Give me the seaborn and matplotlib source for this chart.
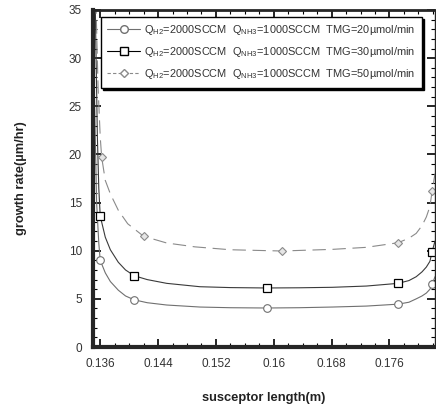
import matplotlib
matplotlib.use("Agg")
import matplotlib.pyplot as plt
from matplotlib.lines import Line2D
from matplotlib.ticker import MultipleLocator
import seaborn as sns

sns.set_style("ticks")
plt.rcParams["font.family"] = ["Liberation Sans", "DejaVu Sans"]
plt.rcParams["mathtext.fontset"] = "custom"
plt.rcParams["mathtext.rm"] = "Liberation Sans"

# ---------------- data ----------------
# curve samples
x_20 = [0.1352, 0.1355, 0.1358, 0.136, 0.1367, 0.1374, 0.1385, 0.1395, 0.1407, 0.1425,
        0.1452, 0.1498, 0.154, 0.159, 0.1635, 0.1681, 0.1728, 0.1772, 0.1787, 0.1797,
        0.1805, 0.1811, 0.1816, 0.1819, 0.1823]
y_20 = [26.0, 15.0, 10.8, 9.0, 7.7, 6.8, 5.9, 5.3, 4.9, 4.6,
        4.36, 4.15, 4.08, 4.05, 4.08, 4.15, 4.25, 4.45, 4.65, 5.0,
        5.3, 5.6, 6.0, 6.5, 7.3]

x_30 = [0.1353, 0.1356, 0.1358, 0.136, 0.1367, 0.1374, 0.1385, 0.1395, 0.1407, 0.1425,
        0.1452, 0.1498, 0.154, 0.159, 0.1635, 0.1681, 0.1728, 0.1772, 0.1787, 0.1797,
        0.1805, 0.1811, 0.1816, 0.1819, 0.1823]
y_30 = [36.0, 22.0, 16.5, 13.6, 11.4, 10.1, 8.8, 8.0, 7.4, 7.0,
        6.61, 6.26, 6.17, 6.13, 6.15, 6.2, 6.33, 6.61, 6.9, 7.3,
        7.8, 8.3, 8.9, 9.9, 11.0]

x_50 = [0.1354, 0.1357, 0.136, 0.1362, 0.1367, 0.1374, 0.1385, 0.1398, 0.142, 0.1452,
        0.1491, 0.1540, 0.1611, 0.1681, 0.1728, 0.1772, 0.1787, 0.1797, 0.1805, 0.1811,
        0.1816, 0.1819, 0.1823]
y_50 = [36.0, 27.0, 21.8, 19.7, 17.3, 15.9, 14.2, 12.8, 11.5, 10.8,
        10.4, 10.1, 9.97, 10.14, 10.35, 10.83, 11.3, 11.8, 12.6, 13.5,
        14.6, 16.2, 18.0]

# marker positions
mx_20 = [0.136, 0.1407, 0.159, 0.1772, 0.1819]
my_20 = [9.0, 4.9, 4.05, 4.45, 6.5]
mx_30 = [0.136, 0.1407, 0.159, 0.1772, 0.1819]
my_30 = [13.6, 7.4, 6.13, 6.61, 9.9]
mx_50 = [0.1362, 0.1420, 0.1611, 0.1772, 0.1819]
my_50 = [19.7, 11.5, 9.97, 10.83, 16.2]

labels = [
    r"Q$_{\mathregular{H2}}$=2000SCCM  Q$_{\mathregular{NH3}}$=1000SCCM  TMG=20µmol/min",
    r"Q$_{\mathregular{H2}}$=2000SCCM  Q$_{\mathregular{NH3}}$=1000SCCM  TMG=30µmol/min",
    r"Q$_{\mathregular{H2}}$=2000SCCM  Q$_{\mathregular{NH3}}$=1000SCCM  TMG=50µmol/min",
]
xticks = [0.136, 0.144, 0.152, 0.16, 0.168, 0.176]
xticklabels = ["0.136", "0.144", "0.152", "0.16", "0.168", "0.176"]

# ---------------- figure ----------------
fig = plt.figure(figsize=(4.36, 4.09), dpi=100)
ax = fig.add_axes([93 / 436, 62 / 409, 342 / 436, 337 / 409])

c20, c30, c50 = "#707070", "#3a3a3a", "#8a8a8a"

sns.lineplot(x=x_20, y=y_20, ax=ax, color=c20, lw=0.8, sort=False)
sns.lineplot(x=x_30, y=y_30, ax=ax, color=c30, lw=0.8, sort=False)
sns.lineplot(x=x_50, y=y_50, ax=ax, color=c50, lw=0.8, sort=False, linestyle=(0, (12, 6)))

ax.plot(mx_20, my_20, ls="none", marker="o", ms=5.5, mfc="white", mec=c20, mew=0.8)
ax.plot(mx_30, my_30, ls="none", marker="s", ms=6, mfc="white", mec="black", mew=0.9)
ax.plot(mx_50, my_50, ls="none", marker="D", ms=4, mfc="#e6e6e6", mec=c50, mew=0.8)

ax.set_xlim(0.135, 0.1823)
ax.set_ylim(0, 35)
ax.set_xticks(xticks)
ax.set_xticklabels(xticklabels)
ax.xaxis.set_minor_locator(MultipleLocator(0.002))
ax.yaxis.set_major_locator(MultipleLocator(5))
ax.yaxis.set_minor_locator(MultipleLocator(1))
ax.tick_params(which="both", direction="in", top=True, right=True, labelsize=8.5,
               labelcolor="#333333", color="black")
ax.tick_params(which="major", length=6, width=1.2, pad=8)
ax.tick_params(which="minor", length=3, width=0.8)
ax.spines["left"].set_linewidth(3)
ax.spines["bottom"].set_linewidth(3)
ax.spines["top"].set_linewidth(2)
ax.spines["right"].set_linewidth(1)

ax.set_xlabel("susceptor length(m)", fontsize=9.3, fontweight="bold", color="#222222", labelpad=16)
ax.set_ylabel("growth rate(µm/hr)", fontsize=9.3, fontweight="bold", color="#222222", labelpad=30)

handles = [
    Line2D([], [], color=c20, lw=0.8, marker="o", ms=5.5, mfc="white", mec=c20),
    Line2D([], [], color="black", lw=0.8, marker="s", ms=6, mfc="white", mec="black"),
    Line2D([], [], color=c50, lw=0.8, ls=(0, (3, 2)), marker="D", ms=4, mfc="white", mec=c50),
]
leg = ax.legend(handles, labels, loc="upper left", bbox_to_anchor=(0.022, 0.98),
                fontsize=7.9, frameon=True, fancybox=False,
                shadow={"color": "black", "alpha": 1, "ox": 1.6, "oy": -1.6},
                edgecolor="black", handlelength=3.0, handletextpad=0.4,
                labelspacing=0.72, borderpad=0.6, borderaxespad=0, labelcolor="#333333")
leg.get_frame().set_linewidth(1.0)

fig.savefig("out.png", dpi=100)
